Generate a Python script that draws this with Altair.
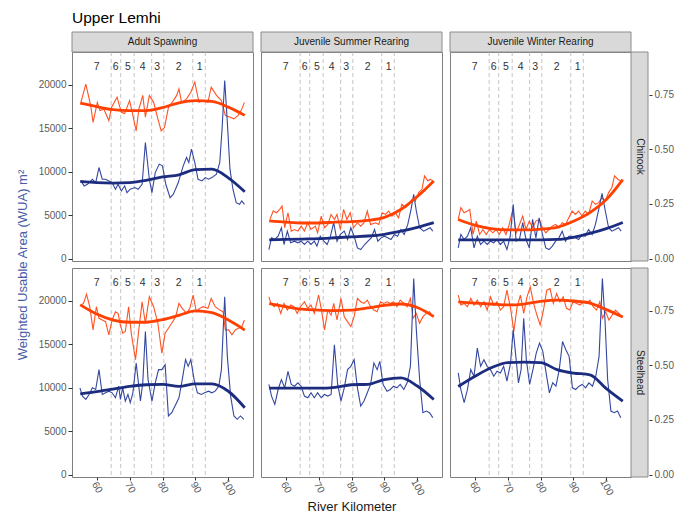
import altair as alt
import pandas as pd

FONT = "Liberation Sans"
W, H = 181, 209
YDOM = [-280, 23800]
XDOM = [52.5, 107.5]
SEC = 25200

FACETS = ["Adult Spawning", "Juvenile Summer Rearing", "Juvenile Winter Rearing"]
SPECIES = ["Chinook", "Steelhead"]

REACH_BOUNDS = [64.4, 67.3, 71.4, 76.7, 80.4, 89.2, 93.0]
REACH_LABEL_KM = [60.0, 65.8, 69.5, 74.0, 78.4, 84.9, 91.3]
REACH_LABELS = ["7", "6", "5", "4", "3", "2", "1"]

KM_SMOOTH = [55, 60, 65, 70, 75, 80, 85, 90, 95, 100, 105]

# ---- Chinook ----
AS_CH_OR = [(55.2, 18000), (56.7, 20100), (58.2, 17600), (58.9, 15700), (60.2, 18000), (61.0, 17050),
            (62.2, 17200), (63.7, 15900), (64.5, 17400), (66.2, 18600), (67.5, 16850), (68.5, 16700),
            (70.0, 18200), (70.8, 16850), (72.0, 14700), (72.8, 17200), (74.0, 18800), (74.8, 16300),
            (76.0, 18800), (77.3, 18000), (78.6, 16100), (79.6, 14700), (80.6, 15100), (81.8, 17400),
            (83.3, 18200), (84.3, 18800), (85.0, 19550), (85.8, 18000), (87.3, 18400), (88.6, 19170),
            (89.8, 20330), (91.1, 18000), (92.3, 18200), (93.8, 18000), (94.8, 19750), (96.4, 18800),
            (97.9, 18200), (99.1, 16470), (100.4, 16300), (101.7, 16100), (102.9, 16470), (103.9, 17050),
            (104.9, 18000)]
AS_CH_BL = [(55.2, 8950), (56.2, 8370), (57.2, 8560), (58.7, 9140), (59.7, 8760), (60.7, 10490),
            (61.7, 9140), (62.7, 9140), (63.7, 8950), (64.7, 8760), (65.7, 7990), (66.5, 8560),
            (67.5, 7790), (68.5, 8370), (69.2, 7600), (70.2, 7990), (71.6, 8180), (72.6, 7990),
            (73.8, 8560), (74.8, 13380), (76.0, 9140), (76.8, 7600), (77.8, 9910), (79.0, 10880),
            (80.0, 10680), (81.0, 8560), (82.3, 7020), (83.3, 7410), (84.8, 8760), (86.3, 10680),
            (87.3, 11650), (88.0, 11070), (88.8, 12610), (89.8, 11070), (90.8, 9140), (92.0, 8950),
            (93.0, 9330), (94.0, 9140), (95.0, 9330), (96.4, 9720), (97.4, 11070), (98.1, 14930),
            (98.9, 20520), (99.7, 15700), (100.5, 10300), (101.4, 7990), (102.4, 6440), (103.4, 6250),
            (104.1, 6630), (104.9, 6250)]
AS_CH_OR_SM = [17900, 17500, 17150, 17050, 17050, 17400, 17950, 18200, 18100, 17450, 16500]
AS_CH_BL_SM = [8900, 8750, 8700, 8750, 9000, 9400, 9650, 10250, 10300, 9300, 7700]

JS_CH_OR = [(55.2, 4510), (56.2, 5480), (57.2, 5280), (58.2, 5670), (58.9, 6050), (59.7, 3550),
            (60.7, 5280), (61.7, 3160), (62.7, 3350), (63.7, 3160), (64.7, 3740), (65.7, 3160),
            (66.7, 4130), (67.7, 3350), (69.0, 3740), (69.7, 2970), (70.8, 4900), (71.8, 3550),
            (72.8, 3930), (73.8, 5090), (74.8, 4510), (75.6, 5090), (76.6, 3350), (77.6, 5670),
            (78.6, 4510), (79.6, 5280), (80.6, 3550), (81.8, 4130), (82.8, 3740), (83.8, 4130),
            (84.8, 5480), (85.8, 3930), (87.3, 4130), (88.3, 3930), (89.3, 5280), (90.3, 5090),
            (91.3, 5480), (92.3, 4900), (93.3, 5280), (94.3, 4700), (95.3, 6250), (96.4, 5860),
            (97.4, 6250), (98.4, 6830), (99.4, 6630), (100.4, 7600), (101.4, 7980), (102.2, 9530),
            (103.2, 8950), (103.9, 9140), (104.7, 8950)]
JS_CH_BL = [(54.9, 1040), (55.7, 2390), (56.7, 2200), (57.7, 2580), (58.7, 3550), (59.5, 1620),
            (60.5, 3160), (61.5, 1810), (62.7, 2000), (63.7, 1810), (64.7, 2000), (65.7, 1620),
            (66.7, 2000), (67.7, 1620), (68.7, 2000), (69.5, 1430), (70.5, 2580), (71.6, 2000),
            (72.6, 1620), (73.6, 2580), (74.6, 4130), (75.6, 2000), (76.6, 2780), (77.8, 3160),
            (78.8, 2200), (79.8, 3550), (80.8, 2580), (81.8, 1230), (82.8, 1040), (84.0, 1620),
            (85.0, 2000), (86.0, 2390), (87.0, 3350), (88.0, 2000), (89.0, 2390), (90.0, 2580),
            (91.0, 2390), (92.0, 2200), (93.0, 2780), (94.0, 2580), (95.0, 3350), (96.0, 2780),
            (97.1, 3930), (98.1, 5670), (98.9, 7400), (99.7, 5480), (100.7, 3550), (101.9, 3160),
            (102.9, 3350), (103.9, 3550), (104.7, 3160)]
JS_CH_OR_SM = [4350, 4200, 4100, 4100, 4200, 4250, 4400, 4750, 5650, 7150, 8950]
JS_CH_BL_SM = [2150, 2200, 2250, 2300, 2400, 2500, 2600, 2800, 3150, 3600, 4150]

JW_CH_OR = [(55.0, 4510), (55.8, 5860), (56.8, 5280), (57.8, 5480), (58.5, 5670), (59.5, 2780),
            (60.5, 4320), (61.5, 2780), (62.5, 3350), (63.5, 2780), (64.5, 3350), (65.5, 2970),
            (66.5, 3350), (67.5, 2780), (68.5, 3550), (69.5, 2780), (70.5, 3930), (71.6, 5670),
            (72.6, 2970), (73.6, 3930), (74.6, 4900), (75.6, 3350), (76.6, 4320), (77.6, 3550),
            (78.6, 4320), (79.6, 4510), (80.6, 3550), (81.6, 2970), (82.6, 3350), (83.6, 3740),
            (84.6, 3930), (85.6, 3550), (86.6, 4130), (87.6, 3930), (88.6, 4700), (89.6, 5480),
            (90.6, 5090), (91.6, 5480), (92.6, 4900), (93.6, 5480), (94.6, 5090), (95.7, 6630),
            (96.7, 6250), (97.7, 6440), (98.7, 7020), (99.7, 6630), (100.7, 7600), (101.7, 8180),
            (102.5, 9530), (103.5, 9140), (104.5, 8950)]
JW_CH_BL = [(55.0, 1230), (55.8, 2780), (56.8, 2200), (57.8, 2580), (58.8, 3550), (59.8, 1230),
            (60.8, 2580), (61.8, 1620), (62.8, 2000), (63.8, 1620), (64.8, 2000), (65.8, 1810),
            (66.8, 2200), (67.8, 1620), (68.8, 2000), (69.8, 1040), (70.8, 2580), (71.7, 6250),
            (72.6, 2000), (73.6, 2200), (74.6, 4130), (75.6, 2200), (76.6, 1230), (77.6, 4510),
            (78.6, 2390), (79.6, 4700), (80.6, 2780), (81.6, 1230), (82.6, 1040), (83.6, 1430),
            (84.6, 2000), (85.6, 2390), (86.6, 3160), (87.6, 2000), (88.6, 2580), (89.6, 2580),
            (90.6, 2390), (91.6, 2200), (92.6, 2780), (93.6, 2580), (94.6, 3350), (95.7, 2780),
            (96.7, 3930), (97.7, 5670), (98.7, 7520), (99.7, 5480), (100.7, 3550), (101.7, 3160),
            (102.7, 3350), (103.7, 3550), (104.5, 3160)]
JW_CH_OR_SM = [4500, 3850, 3450, 3300, 3300, 3400, 3600, 4300, 5300, 6800, 9100]
JW_CH_BL_SM = [2150, 2150, 2150, 2150, 2150, 2150, 2200, 2450, 2900, 3450, 4150]

# ---- Steelhead ----
AS_SH_OR = [(55.2, 19530), (56.0, 19720), (56.9, 20790), (57.9, 19340), (58.9, 16670), (59.9, 19340),
            (60.7, 18000), (61.7, 17810), (62.7, 17620), (63.7, 16100), (64.7, 17810), (65.7, 18760),
            (66.5, 18570), (67.2, 17240), (67.9, 16290), (68.7, 16480), (69.7, 19340), (70.5, 16290),
            (71.8, 13240), (72.8, 16670), (73.8, 19910), (74.8, 17430), (76.0, 20480), (77.3, 19340),
            (78.6, 17430), (79.8, 14000), (80.8, 16290), (81.8, 16860), (82.8, 17430), (84.0, 18190),
            (85.0, 19720), (86.0, 19150), (87.3, 18570), (88.3, 19150), (89.3, 20670), (90.3, 18760),
            (91.3, 19150), (92.3, 19340), (93.8, 19150), (94.8, 20290), (96.0, 19340), (97.4, 18950),
            (98.4, 18760), (99.1, 16670), (100.1, 16670), (101.1, 16100), (102.1, 16670), (103.1, 16860),
            (104.1, 17050), (104.9, 17810)]
AS_SH_BL = [(54.9, 9990), (55.7, 9040), (56.7, 8660), (57.7, 9230), (58.7, 9990), (59.7, 9800),
            (60.7, 12090), (61.7, 9230), (62.7, 9420), (63.7, 9610), (64.7, 9420), (65.7, 8850),
            (66.7, 10180), (67.2, 8660), (67.9, 9990), (68.7, 8470), (69.5, 9230), (70.2, 8280),
            (71.0, 9420), (72.0, 12850), (73.3, 8470), (74.0, 10570), (74.8, 16480), (75.6, 10950),
            (76.8, 8470), (77.8, 10570), (78.8, 12090), (79.8, 12090), (80.8, 12660), (81.8, 6750),
            (82.8, 7130), (83.8, 7900), (85.0, 8850), (86.0, 10950), (87.0, 13240), (87.8, 12470),
            (88.6, 13240), (89.6, 10950), (90.6, 9420), (91.8, 9230), (92.8, 9420), (94.0, 9610),
            (95.0, 9420), (96.0, 9610), (97.1, 10180), (97.9, 12090), (98.9, 20480), (99.7, 13620),
            (100.7, 9040), (101.7, 6750), (102.7, 6370), (103.7, 6750), (104.7, 6370)]
AS_SH_OR_SM = [19550, 18500, 17800, 17550, 17550, 17850, 18350, 18850, 18650, 17800, 16650]
AS_SH_BL_SM = [9300, 9550, 9850, 10150, 10350, 10400, 10150, 10450, 10450, 9600, 7700]

JS_SH_OR = [(54.9, 20480), (55.5, 19720), (56.5, 19340), (57.5, 19720), (58.5, 18570), (59.5, 19720),
            (60.5, 18950), (61.5, 19530), (62.5, 19340), (63.5, 18570), (64.5, 19340), (65.7, 19910),
            (66.7, 19150), (67.7, 19530), (68.7, 18570), (70.0, 20670), (70.8, 19150), (71.8, 16670),
            (72.8, 18950), (73.8, 18380), (74.6, 19720), (75.6, 17810), (76.8, 20290), (77.8, 18190),
            (78.8, 17620), (79.8, 17050), (80.8, 18190), (81.8, 20290), (82.8, 19910), (83.8, 19720),
            (84.8, 20100), (85.8, 19340), (86.8, 18950), (87.8, 18760), (88.8, 19910), (89.8, 19720),
            (90.8, 19910), (91.8, 19720), (92.8, 19910), (93.8, 19340), (94.8, 20100), (95.9, 19720),
            (96.9, 19340), (97.9, 20290), (98.7, 18000), (99.7, 18570), (100.7, 17430), (101.7, 18190),
            (102.7, 18570), (103.7, 18760), (104.7, 18190)]
JS_SH_BL = [(54.9, 10380), (55.7, 9040), (56.7, 8090), (57.7, 9800), (58.7, 10950), (59.7, 9990),
            (60.7, 11900), (61.7, 10380), (62.7, 10180), (63.7, 10570), (64.7, 10180), (65.7, 9040),
            (66.7, 8850), (67.7, 9420), (68.7, 8850), (69.7, 9420), (70.8, 8850), (71.8, 9230),
            (72.8, 9040), (73.8, 9230), (74.8, 14950), (75.8, 10380), (76.8, 8470), (77.8, 9990),
            (78.8, 12090), (79.8, 12470), (80.8, 13240), (81.8, 9990), (82.8, 7900), (83.8, 8470),
            (84.8, 9420), (85.8, 10380), (86.8, 12850), (87.8, 12090), (88.6, 13050), (89.6, 10380),
            (90.8, 9610), (91.8, 9800), (92.8, 10180), (93.8, 9990), (94.8, 10380), (95.9, 9800),
            (96.9, 10570), (97.9, 12470), (98.9, 22580), (99.7, 16670), (100.7, 10950), (101.7, 7130),
            (102.7, 7320), (103.7, 7130), (104.7, 6560)]
JS_SH_OR_SM = [19700, 19350, 19050, 18950, 18900, 18950, 19200, 19500, 19650, 19250, 18200]
JS_SH_BL_SM = [9950, 9950, 9950, 9950, 10050, 10350, 10400, 10950, 11150, 10200, 8650]

JW_SH_OR = [(55.0, 20670), (55.8, 19530), (56.8, 19720), (57.8, 19340), (58.8, 20290), (59.8, 19530),
            (60.8, 20100), (61.8, 19340), (62.8, 19910), (63.8, 18950), (64.8, 20480), (65.8, 19530),
            (66.8, 19910), (67.8, 18950), (68.8, 19340), (69.8, 21240), (70.9, 19150), (71.9, 16480),
            (72.9, 19340), (73.9, 20670), (74.9, 18570), (75.9, 20480), (76.9, 21620), (77.9, 19720),
            (78.9, 18380), (79.9, 17240), (80.9, 18950), (81.9, 21240), (82.9, 21430), (83.9, 19720),
            (84.9, 20860), (85.9, 19910), (86.9, 20480), (87.9, 19150), (88.9, 18950), (89.9, 19910),
            (91.0, 19720), (92.0, 19530), (93.0, 19910), (94.0, 19720), (95.0, 20100), (96.0, 19340),
            (97.0, 18950), (98.0, 19910), (98.8, 18000), (99.8, 18760), (100.8, 17810), (101.8, 18380),
            (102.8, 18950), (103.8, 18570), (104.6, 18190)]
JW_SH_BL = [(55.0, 11710), (55.8, 9800), (56.8, 8280), (57.8, 9800), (58.8, 12090), (59.8, 11330),
            (60.8, 14570), (61.8, 12470), (62.8, 13240), (63.8, 12470), (64.8, 12090), (65.8, 11330),
            (66.8, 11900), (67.8, 11710), (68.8, 12470), (69.8, 10760), (70.9, 12850), (71.7, 16670),
            (72.5, 13620), (73.3, 10570), (74.1, 12090), (74.9, 18000), (75.7, 13240), (76.7, 10380),
            (77.7, 12090), (78.7, 14000), (79.7, 15140), (80.7, 14190), (81.7, 11710), (82.7, 9420),
            (83.7, 10570), (84.7, 10180), (85.7, 12090), (86.7, 15330), (87.7, 14380), (88.7, 13620),
            (89.7, 9990), (90.7, 9800), (91.7, 10180), (92.7, 10380), (93.7, 9990), (94.7, 10570),
            (95.8, 10180), (96.8, 11330), (97.8, 13620), (98.8, 22580), (99.6, 17810), (100.4, 10950),
            (101.4, 7320), (102.4, 7130), (103.4, 7320), (104.4, 6560)]
JW_SH_OR_SM = [19900, 19750, 19650, 19550, 19650, 19950, 20100, 20000, 19750, 19000, 18150]
JW_SH_BL_SM = [10150, 11300, 12300, 12900, 12950, 12900, 12100, 11700, 11500, 9900, 8450]

PANELS = [
    (AS_CH_OR, AS_CH_BL, AS_CH_OR_SM, AS_CH_BL_SM),
    (JS_CH_OR, JS_CH_BL, JS_CH_OR_SM, JS_CH_BL_SM),
    (JW_CH_OR, JW_CH_BL, JW_CH_OR_SM, JW_CH_BL_SM),
    (AS_SH_OR, AS_SH_BL, AS_SH_OR_SM, AS_SH_BL_SM),
    (JS_SH_OR, JS_SH_BL, JS_SH_OR_SM, JS_SH_BL_SM),
    (JW_SH_OR, JW_SH_BL, JW_SH_OR_SM, JW_SH_BL_SM),
]

ORANGE_THIN = "#FF5324"
ORANGE_THICK = "#FF4000"
BLUE_THIN = "#3447A0"
BLUE_THICK = "#1C2C7E"
AXIS_TXT = "#5a5a5a"
STRIP_FILL = "#D9D9D9"
STRIP_STROKE = "#8c8c8c"

one = pd.DataFrame({"a": [0]})


def panel(idx):
    row, col = divmod(idx, 3)
    raw_or, raw_bl, sm_or, sm_bl = PANELS[idx]
    bottom = row == 1
    left = col == 0
    right = col == 2

    if bottom:
        xaxis = alt.Axis(values=[60, 70, 80, 90, 100], labelAngle=60, labelAlign="center",
                         labelBaseline="middle", labelPadding=7, tickSize=3, tickColor="#333333",
                         labelColor=AXIS_TXT, labelFontSize=10, domain=False, grid=False,
                         title="River Kilometer" if col == 1 else None,
                         titleFontSize=13, titleColor="#1a1a1a", titleFontWeight="normal",
                         titlePadding=4)
    else:
        xaxis = None
    if left:
        yaxis = alt.Axis(values=[0, 5000, 10000, 15000, 20000], format="d", tickSize=4,
                         tickColor="#333333", labelColor=AXIS_TXT, labelFontSize=10, labelPadding=2,
                         domain=False, grid=False, title=None)
    else:
        yaxis = None

    xs = alt.Scale(domain=XDOM, nice=False, zero=False)
    ys = alt.Scale(domain=YDOM, nice=False, zero=False)

    def X():
        return alt.X("km:Q", scale=xs, axis=xaxis)

    def Y():
        return alt.Y("wua:Q", scale=ys, axis=yaxis)

    df_or = pd.DataFrame(raw_or, columns=["km", "wua"])
    df_bl = pd.DataFrame(raw_bl, columns=["km", "wua"])
    df_sor = pd.DataFrame({"km": KM_SMOOTH, "wua": sm_or})
    df_sbl = pd.DataFrame({"km": KM_SMOOTH, "wua": sm_bl})
    df_bounds = pd.DataFrame({"km": REACH_BOUNDS})
    df_lab = pd.DataFrame({"km": REACH_LABEL_KM, "lab": REACH_LABELS})

    layers = [
        alt.Chart(df_bounds).mark_rule(color="#bdbdbd", strokeDash=[4, 3], strokeWidth=0.9).encode(x=X()),
        alt.Chart(df_lab).mark_text(fontSize=10.5, color="#333333", font=FONT, baseline="middle").encode(
            x=X(), y=alt.value(15), text="lab:N"),
        alt.Chart(df_or).mark_line(color=ORANGE_THIN, strokeWidth=1.1).encode(x=X(), y=Y()),
        alt.Chart(df_bl).mark_line(color=BLUE_THIN, strokeWidth=1.1).encode(x=X(), y=Y()),
        alt.Chart(df_sor).mark_line(color=ORANGE_THICK, strokeWidth=2.8, interpolate="monotone").encode(x=X(), y=Y()),
        alt.Chart(df_sbl).mark_line(color=BLUE_THICK, strokeWidth=2.8, interpolate="monotone").encode(x=X(), y=Y()),
    ]

    if row == 0:
        layers.append(alt.Chart(one).mark_rect(fill=STRIP_FILL, stroke=STRIP_STROKE, strokeWidth=1).encode(
            x=alt.value(0), x2=alt.value(W), y=alt.value(-20), y2=alt.value(0)))
        layers.append(alt.Chart(one).mark_text(fontSize=10, color="#1a1a1a", font=FONT, baseline="middle").encode(
            x=alt.value(W / 2), y=alt.value(-10), text=alt.value(FACETS[col])))
    if idx == 0:
        layers.append(alt.Chart(one).mark_text(fontSize=15.5, color="#000000", font=FONT, align="left",
                                               baseline="alphabetic").encode(
            x=alt.value(0), y=alt.value(-29), text=alt.value("Upper Lemhi")))
    if idx == 3:
        layers.append(alt.Chart(one).mark_text(fontSize=13, color="#4B5BA8", font=FONT, angle=270,
                                               baseline="middle", align="center").encode(
            x=alt.value(-49), y=alt.value(-3), text=alt.value("Weighted Usable Area (WUA) m²")))
    if right:
        layers.append(alt.Chart(one).mark_rect(fill=STRIP_FILL, stroke=STRIP_STROKE, strokeWidth=1).encode(
            x=alt.value(W), x2=alt.value(W + 17), y=alt.value(0), y2=alt.value(H)))
        layers.append(alt.Chart(one).mark_text(fontSize=10, color="#1a1a1a", font=FONT, angle=90,
                                               baseline="middle", align="center").encode(
            x=alt.value(W + 8.5), y=alt.value(H / 2), text=alt.value(SPECIES[row])))
        sec = pd.DataFrame({"v": [0.0, 0.9]})
        layers.append(alt.Chart(sec).mark_point(opacity=0).encode(
            y=alt.Y("v:Q", scale=alt.Scale(domain=[YDOM[0] / SEC, YDOM[1] / SEC], nice=False, zero=False),
                    axis=alt.Axis(orient="right", offset=18, values=[0, 0.25, 0.5, 0.75], format=".2f",
                                  tickSize=3, tickColor="#333333", labelColor=AXIS_TXT, labelFontSize=10,
                                  labelPadding=2, domain=False, grid=False, title=None))))

    ch = alt.layer(*layers).properties(width=W, height=H)
    if right:
        ch = ch.resolve_scale(y="independent")
    return ch


chart = alt.concat(*[panel(i) for i in range(6)], columns=3, bounds="flush",
                   spacing={"row": 7, "column": 8}).properties(
    padding={"left": 16, "top": 10, "right": 5, "bottom": 5},
    background="white",
).configure_view(stroke="#7f7f7f", strokeWidth=1).configure_axis(
    labelFont=FONT, titleFont=FONT
).configure_text(font=FONT)

chart.save("out.html", embed_options={"renderer": "svg", "actions": False})
